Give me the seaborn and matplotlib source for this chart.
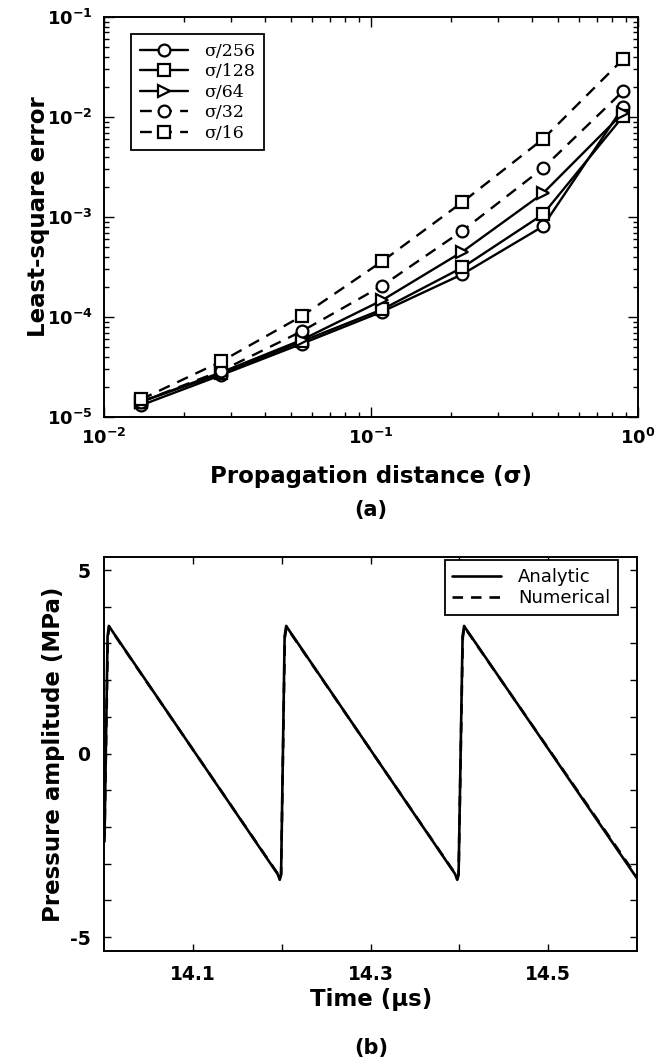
import numpy as np
import pandas as pd
import matplotlib
matplotlib.use('Agg')
import matplotlib.pyplot as plt
import matplotlib.ticker as mticker
import seaborn as sns

# (a) least-square error vs propagation distance
distance = [0.01375, 0.0275, 0.055, 0.11, 0.22, 0.44, 0.88]
err_256 = [1.31e-5, 2.63e-5, 5.4e-5, 1.13e-4, 2.68e-4, 8.05e-4, 1.26e-2]
err_128 = [1.42e-5, 2.73e-5, 5.7e-5, 1.19e-4, 3.13e-4, 1.06e-3, 1.02e-2]
err_64 = [1.42e-5, 2.80e-5, 5.9e-5, 1.47e-4, 4.50e-4, 1.72e-3, 1.10e-2]
err_32 = [1.42e-5, 2.90e-5, 7.2e-5, 2.05e-4, 7.30e-4, 3.07e-3, 1.82e-2]
err_16 = [1.50e-5, 3.60e-5, 1.02e-4, 3.60e-4, 1.41e-3, 6.00e-3, 3.80e-2]
step_labels = ['σ/256', 'σ/128', 'σ/64', 'σ/32', 'σ/16']

# (b) pressure waveform, analytic vs numerical
t_analytic = [14.000, 14.0035, 14.0050, 14.0065, 14.1950, 14.1975, 14.1990,
              14.2030, 14.2048, 14.2063, 14.3950, 14.3975, 14.3990,
              14.4035, 14.4052, 14.4067, 14.6000]
p_analytic = [-2.40, 3.20, 3.48, 3.42, -3.28, -3.44, -3.30,
              3.20, 3.48, 3.42, -3.28, -3.44, -3.30,
              3.20, 3.48, 3.42, -3.40]
t_numerical = [14.000, 14.0038, 14.0052, 14.0067, 14.1948, 14.1974, 14.1990,
               14.2032, 14.2050, 14.2065, 14.3948, 14.3974, 14.3990,
               14.4037, 14.4054, 14.4069, 14.6000]
p_numerical = [-2.30, 3.15, 3.45, 3.40, -3.26, -3.42, -3.28,
               3.15, 3.45, 3.40, -3.26, -3.42, -3.28,
               3.15, 3.45, 3.40, -3.36]

sns.set_style('ticks')
plt.rcParams['font.family'] = ['DejaVu Sans']
plt.rcParams['mathtext.fontset'] = 'dejavusans'
plt.rcParams['axes.linewidth'] = 1.4
for key in ['text.color', 'axes.labelcolor', 'xtick.color', 'ytick.color',
            'axes.edgecolor']:
    plt.rcParams[key] = 'black'

fig = plt.figure(figsize=(6.55, 10.63), dpi=100)
ax1 = fig.add_axes([0.1588, 0.6077, 0.8153, 0.3763])
ax2 = fig.add_axes([0.1595, 0.1054, 0.8130, 0.3707])

# ---- panel (a)
series = [err_256, err_128, err_64, err_32, err_16]
markers = ['o', 's', '>', 'o', 's']
styles = ['-', '-', '-', '--', '--']
for vals, lab, mk, ls in zip(series, step_labels, markers, styles):
    sns.lineplot(x=distance, y=vals, ax=ax1, color='black', marker=mk,
                 linestyle=ls, linewidth=1.7, markersize=8.5,
                 markerfacecolor='white', markeredgecolor='black',
                 markeredgewidth=1.6, label=lab)
for ln in ax1.lines[3:]:
    ln.set_dashes((5, 3.5))

ax1.set_xscale('log')
ax1.set_yscale('log')
ax1.set_xlim(1e-2, 1e0)
ax1.set_ylim(1e-5, 1e-1)
pow_fmt = mticker.FuncFormatter(
    lambda v, pos: r'$\mathbf{10^{%d}}$' % round(np.log10(v)))
ax1.xaxis.set_major_formatter(pow_fmt)
ax1.yaxis.set_major_formatter(pow_fmt)
ax1.tick_params(which='both', direction='in', top=True, right=True, width=1)
ax1.tick_params(which='major', length=7, labelsize=13, pad=8)
ax1.tick_params(which='minor', length=3.5)
ax1.set_ylabel('Least-square error', fontsize=16.5, fontweight='bold')
ax1.yaxis.set_label_coords(-0.101, 0.5)
ax1.set_xlabel('Propagation distance (σ)', fontsize=16.5, fontweight='bold')
ax1.xaxis.set_label_coords(0.5, -0.12)
leg1 = ax1.legend(loc='upper left', bbox_to_anchor=(0.0506, 0.9575),
                  borderaxespad=0, fancybox=False, edgecolor='black',
                  framealpha=1, prop={'family': 'DejaVu Serif', 'size': 12.5},
                  handlelength=2.8, handletextpad=0.9, labelspacing=0.2,
                  borderpad=0.5)
leg1.get_frame().set_linewidth(1.3)

# ---- panel (b)
sns.lineplot(x=t_analytic, y=p_analytic, ax=ax2, color='black',
             linewidth=1.9, label='Analytic', sort=False)
sns.lineplot(x=t_numerical, y=p_numerical, ax=ax2, color='black',
             linewidth=1.9, linestyle='--', label='Numerical', sort=False)
ax2.lines[1].set_dashes((4, 3))

ax2.set_xlim(14.0, 14.6)
ax2.set_ylim(-5.38, 5.36)
ax2.set_xticks([14.1, 14.2, 14.3, 14.4, 14.5])
ax2.set_xticklabels(['14.1', '', '14.3', '', '14.5'], fontweight='bold')
ax2.set_yticks(list(range(-5, 6)))
ax2.set_yticklabels(['-5', '', '', '', '', '0', '', '', '', '', '5'],
                    fontweight='bold')
ax2.tick_params(which='both', direction='in', top=True, right=True, width=1,
                length=5, labelsize=13.5, pad=10)
ax2.set_ylabel('Pressure amplitude (MPa)', fontsize=16.5, fontweight='bold')
ax2.yaxis.set_label_coords(-0.074, 0.5)
ax2.set_xlabel('Time (μs)', fontsize=16.5, fontweight='bold')
ax2.xaxis.set_label_coords(0.5, -0.094)
leg2 = ax2.legend(loc='upper right', bbox_to_anchor=(0.964, 0.992),
                  borderaxespad=0, fancybox=False, edgecolor='black',
                  framealpha=1, fontsize=13, handlelength=2.67,
                  handletextpad=0.95, labelspacing=0.2, borderpad=0.43)
leg2.get_frame().set_linewidth(1.3)

fig.text(371 / 655, 1 - 510 / 1063, '(a)', ha='center', va='center',
         fontsize=15, fontweight='bold')
fig.text(371 / 655, 1 - 1048 / 1063, '(b)', ha='center', va='center',
         fontsize=15, fontweight='bold')

fig.savefig('out.png', dpi=100)
